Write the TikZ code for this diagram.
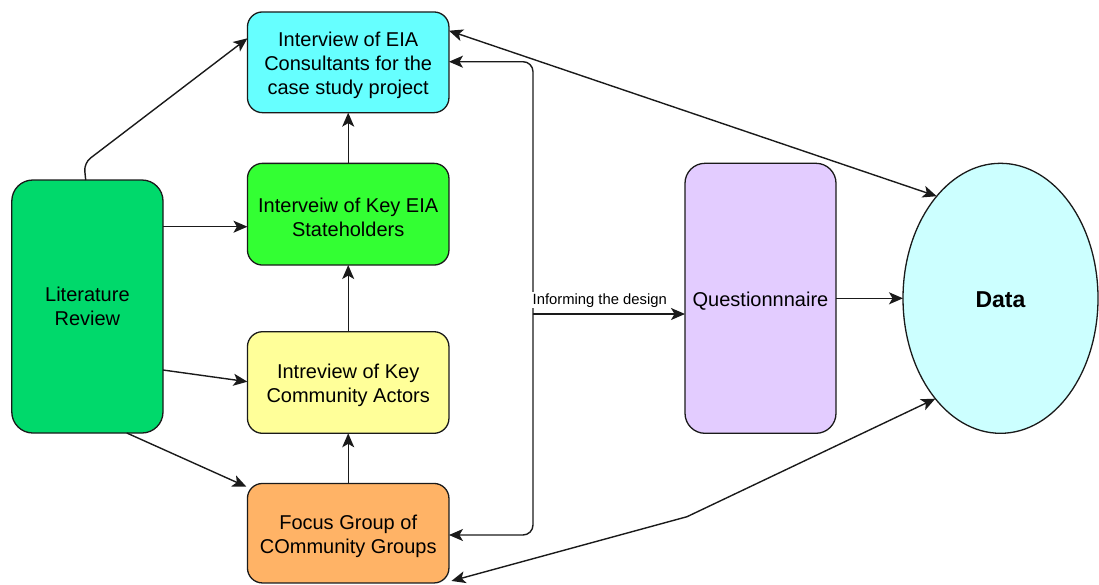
\documentclass[tikz,border=0pt]{standalone}
\usepackage{fontspec}
\setmainfont{Liberation Sans}
\usetikzlibrary{arrows.meta,shapes.geometric,calc}

\definecolor{consultfill}{HTML}{66FFFF}
\definecolor{stakefill}{HTML}{33FF33}
\definecolor{actorfill}{HTML}{FFFF99}
\definecolor{focusfill}{HTML}{FFB366}
\definecolor{litfill}{HTML}{00D96B}
\definecolor{questfill}{HTML}{E3CCFF}
\definecolor{datafill}{HTML}{CCFFFF}
\definecolor{edgecol}{HTML}{1A1A1A}

% a tall strut on the first line lowers the text block a little
\newcommand{\toprow}{\rule{0pt}{21pt}}

\begin{document}
\begin{tikzpicture}[x=1pt,y=-1pt,
  box/.style={draw=edgecol, line width=1.3pt, rounded corners=15pt,
    minimum width=201.5pt, inner sep=0pt, outer sep=0pt, align=center,
    font=\fontsize{20}{24}\selectfont},
  >={Stealth[length=14pt,width=12pt,inset=3.5pt]},
  conn/.style={draw=edgecol, line width=1.4pt, ->},
  twoway/.style={draw=edgecol, line width=1.4pt, <->}]

\useasboundingbox (0,0) rectangle (1099,584);

% boxes of the central column
\node[box, fill=consultfill, minimum height=100.7pt] (consult) at (348.2,62.3)
  {\toprow Interview of EIA\\Consultants for the\\case study project};
\node[box, fill=stakefill, minimum height=101.7pt] (stake) at (348.2,214.2)
  {\toprow Interveiw of Key EIA\\Stateholders};
\node[box, fill=actorfill, minimum height=101.6pt] (actor) at (348.2,382.5)
  {\toprow Intreview of Key\\Community Actors};
\node[box, fill=focusfill, minimum height=99.5pt] (focus) at (348.2,533.2)
  {\toprow Focus Group of\\COmmunity Groups};

% literature review on the left
\node[box, fill=litfill, rounded corners=21pt, minimum width=151.2pt,
  minimum height=253pt] (lit) at (87.4,306.5) {Literature\\Review};

% questionnaire and data
\node[box, fill=questfill, rounded corners=20pt, minimum width=151pt,
  minimum height=270pt] (quest) at (760.5,298.3) {\toprow Questionnnaire};
\node[ellipse, draw=edgecol, line width=1.3pt, fill=datafill, inner sep=0pt,
  outer sep=0pt, minimum width=195pt, minimum height=270pt,
  font=\fontsize{23}{27}\selectfont\bfseries] (data) at (1000.5,298.3)
  {\rule{0pt}{19pt}Data};

% literature review feeding the interviews
\draw[conn, rounded corners=8pt] ($(lit.north)+(-1.7,0)$) -- (84,163)
  -- (consult.west |- 0,38.3);
\draw[conn] (lit.east |- 0,226.7) -- (stake.west |- 0,226.7);
\draw[conn] (lit.east |- 0,370) -- (actor.west |- 0,381.7);
\draw[conn] (lit.south -| 126.8,0) -- (246.4,486.7);

% the column builds upwards
\draw[conn] (stake.north) -- (consult.south);
\draw[conn] (actor.north) -- (stake.south);
\draw[conn] (focus.north) -- (actor.south);

% informing the design of the questionnaire
\coordinate (hub) at (533,314);
\draw[conn, rounded corners=10pt] (hub) |- (consult.east |- 0,61.7);
\draw[conn, rounded corners=10pt] (hub) |- (focus.east |- 0,535);
\draw[conn] (hub) -- (quest.west |- hub);
\node[fill=white, inner sep=1pt, anchor=west,
  font=\fontsize{14.8}{17}\selectfont] (infolabel) at (531.5,300.3)
  {Informing the design};

% everything ends up in the data
\draw[conn] (quest.east) -- (data.west);
\draw[twoway] (consult.east |- 0,30.7) -- (data.122.6);
\coordinate (bend) at (687,516.7);
\draw[twoway] ($(focus.south east)+(2.5,-2)$) -- (bend) -- (data.237.4);

\end{tikzpicture}
\end{document}
